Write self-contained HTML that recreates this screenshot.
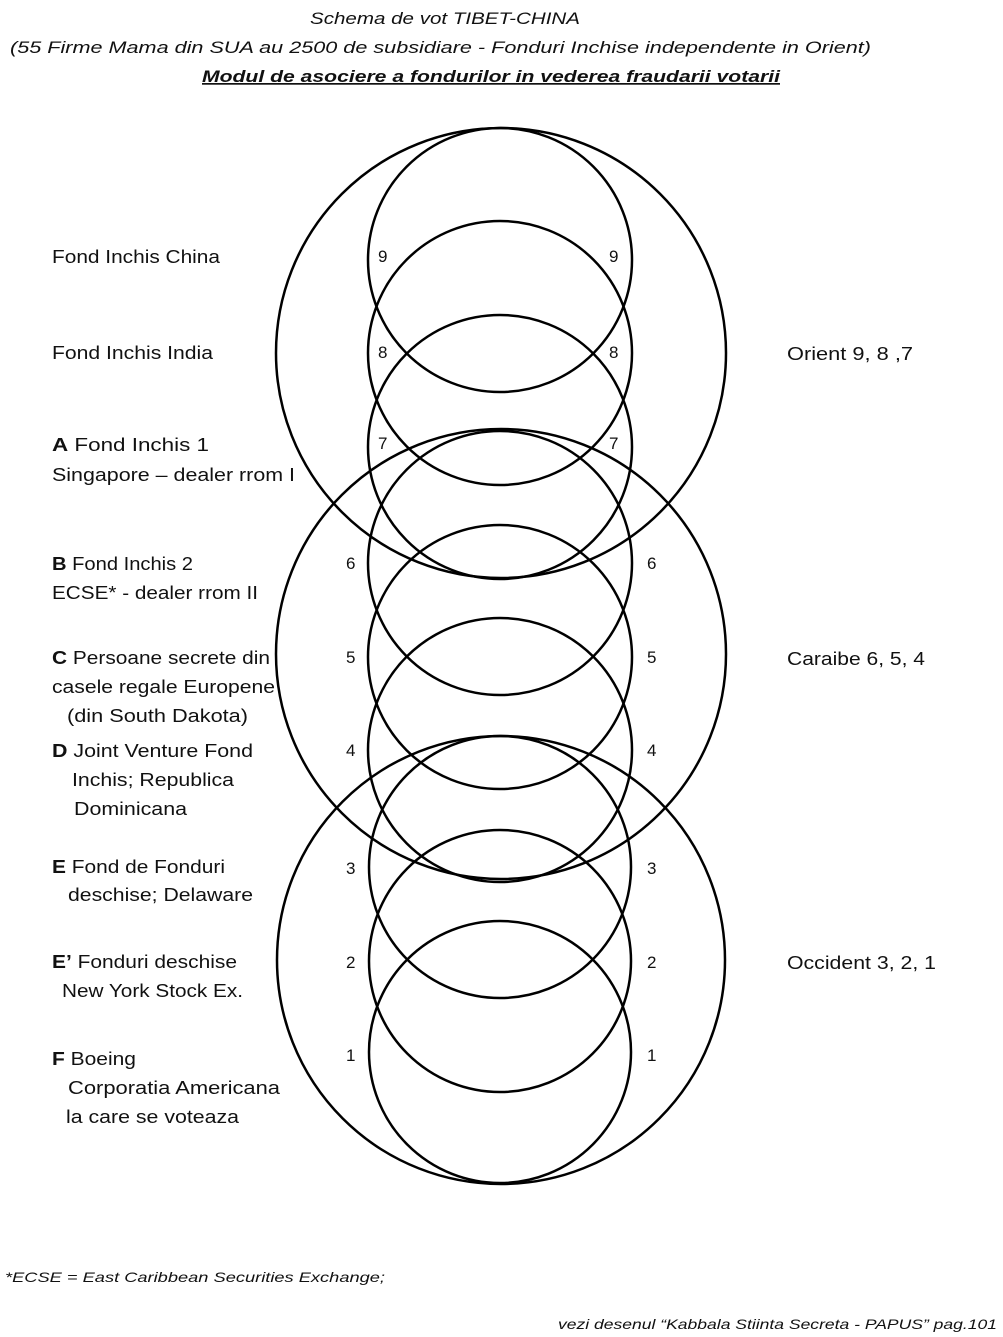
<!DOCTYPE html>
<html><head><meta charset="utf-8"><style>
html,body{margin:0;padding:0;background:#fff;}
svg{display:block;}
text{font-family:"Liberation Sans",sans-serif;fill:#111;}
.l{font-size:18px;}
.n{font-size:17px;}
.t{font-size:17px;font-style:italic;}
</style></head><body>
<svg width="1003" height="1337" viewBox="0 0 1003 1337" xmlns="http://www.w3.org/2000/svg">
<text class="t" x="310" y="24" textLength="270" lengthAdjust="spacingAndGlyphs">Schema de vot TIBET-CHINA</text>
<text class="t" x="10" y="53" textLength="861" lengthAdjust="spacingAndGlyphs">(55 Firme Mama din SUA au 2500 de subsidiare - Fonduri Inchise independente in Orient)</text>
<text class="t" x="202" y="82" textLength="578" lengthAdjust="spacingAndGlyphs" style="font-weight:bold;text-decoration:underline">Modul de asociere a fondurilor in vederea fraudarii votarii</text>

<g fill="none" stroke="#000" stroke-width="2.5">
<circle cx="501" cy="353" r="225"/>
<circle cx="501" cy="654" r="225"/>
<circle cx="501" cy="960" r="224"/>
<circle cx="500" cy="260" r="132"/>
<circle cx="500" cy="353" r="132"/>
<circle cx="500" cy="447" r="132"/>
<circle cx="500" cy="563" r="132"/>
<circle cx="500" cy="657" r="132"/>
<circle cx="500" cy="750" r="132"/>
<circle cx="500" cy="867" r="131"/>
<circle cx="500" cy="961" r="131"/>
<circle cx="500" cy="1052" r="131"/>
</g>

<g class="n">
<text x="378" y="262">9</text><text x="609" y="262">9</text>
<text x="378" y="358">8</text><text x="609" y="358">8</text>
<text x="378" y="449">7</text><text x="609" y="449">7</text>
<text x="346" y="569">6</text><text x="647" y="569">6</text>
<text x="346" y="663">5</text><text x="647" y="663">5</text>
<text x="346" y="756">4</text><text x="647" y="756">4</text>
<text x="346" y="874">3</text><text x="647" y="874">3</text>
<text x="346" y="968">2</text><text x="647" y="968">2</text>
<text x="346" y="1061">1</text><text x="647" y="1061">1</text>
</g>

<g class="l">
<text x="52" y="263" textLength="168" lengthAdjust="spacingAndGlyphs">Fond Inchis China</text>
<text x="52" y="359" textLength="161" lengthAdjust="spacingAndGlyphs">Fond Inchis India</text>
<text x="52" y="451" textLength="157" lengthAdjust="spacingAndGlyphs"><tspan font-weight="bold">A</tspan> Fond Inchis 1</text>
<text x="52" y="481" textLength="243" lengthAdjust="spacingAndGlyphs">Singapore – dealer rrom I</text>
<text x="52" y="570" textLength="141" lengthAdjust="spacingAndGlyphs"><tspan font-weight="bold">B</tspan> Fond Inchis 2</text>
<text x="52" y="599" textLength="206" lengthAdjust="spacingAndGlyphs">ECSE* - dealer rrom II</text>
<text x="52" y="664" textLength="218" lengthAdjust="spacingAndGlyphs"><tspan font-weight="bold">C</tspan> Persoane secrete din</text>
<text x="52" y="693" textLength="223" lengthAdjust="spacingAndGlyphs">casele regale Europene</text>
<text x="67" y="722" textLength="181" lengthAdjust="spacingAndGlyphs">(din South Dakota)</text>
<text x="52" y="757" textLength="201" lengthAdjust="spacingAndGlyphs"><tspan font-weight="bold">D</tspan> Joint Venture Fond</text>
<text x="72" y="786" textLength="162" lengthAdjust="spacingAndGlyphs">Inchis; Republica</text>
<text x="74" y="815" textLength="113" lengthAdjust="spacingAndGlyphs">Dominicana</text>
<text x="52" y="873" textLength="173" lengthAdjust="spacingAndGlyphs"><tspan font-weight="bold">E</tspan> Fond de Fonduri</text>
<text x="68" y="901" textLength="185" lengthAdjust="spacingAndGlyphs">deschise; Delaware</text>
<text x="52" y="968" textLength="185" lengthAdjust="spacingAndGlyphs"><tspan font-weight="bold">E’</tspan> Fonduri deschise</text>
<text x="62" y="997" textLength="181" lengthAdjust="spacingAndGlyphs">New York Stock Ex.</text>
<text x="52" y="1065" textLength="84" lengthAdjust="spacingAndGlyphs"><tspan font-weight="bold">F</tspan> Boeing</text>
<text x="68" y="1094" textLength="212" lengthAdjust="spacingAndGlyphs">Corporatia Americana</text>
<text x="66" y="1123" textLength="173" lengthAdjust="spacingAndGlyphs">la care se voteaza</text>

<text x="787" y="360" textLength="126" lengthAdjust="spacingAndGlyphs">Orient 9, 8 ,7</text>
<text x="787" y="665" textLength="138" lengthAdjust="spacingAndGlyphs">Caraibe 6, 5, 4</text>
<text x="787" y="969" textLength="149" lengthAdjust="spacingAndGlyphs">Occident 3, 2, 1</text>
</g>

<text x="5" y="1282" style="font-size:14px;font-style:italic" textLength="380" lengthAdjust="spacingAndGlyphs">*ECSE = East Caribbean Securities Exchange;</text>
<text x="558" y="1329" style="font-size:14px;font-style:italic" textLength="439" lengthAdjust="spacingAndGlyphs">vezi desenul “Kabbala Stiinta Secreta - PAPUS” pag.101</text>
</svg>
</body></html>
